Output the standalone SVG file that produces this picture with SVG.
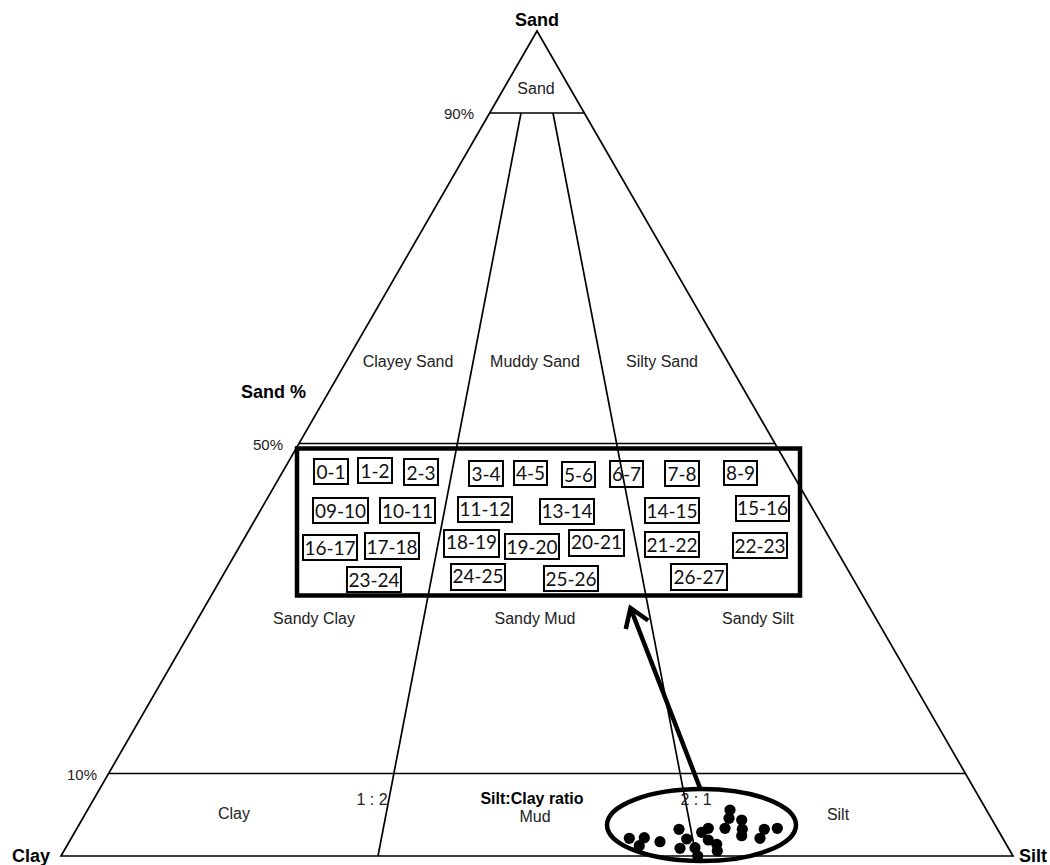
<svg xmlns="http://www.w3.org/2000/svg" width="1050" height="865" viewBox="0 0 1050 865">
  <style>
    .frame { fill: none; stroke: #000; stroke-width: 1.7; }
    .title { font-family: "Liberation Sans", Arial, sans-serif; font-weight: bold; font-size: 18px; fill: #000; }
    .axis { font-family: "Liberation Sans", Arial, sans-serif; font-size: 15px; fill: #222; }
    .zone { font-family: "Liberation Sans", Arial, sans-serif; font-size: 16px; fill: #222; text-anchor: middle; }
    .ratio { font-family: "Liberation Sans", Arial, sans-serif; font-weight: bold; font-size: 16px; fill: #000; text-anchor: middle; }
    .tag rect { fill: none; stroke: #000; stroke-width: 2; }
    .tag text { font-family: Lato, "Open Sans", sans-serif; font-size: 19px; fill: #111; text-anchor: middle; }
    .dot { fill: #000; }
  </style>
  <defs>
    <marker id="chevron" markerUnits="userSpaceOnUse" markerWidth="30" markerHeight="32" viewBox="-24 -16 30 32" refX="0" refY="0" orient="auto" overflow="visible">
      <path d="M-18,-12 L0,0 L-18,12" fill="none" stroke="#000" stroke-width="4.5" stroke-linejoin="miter"/>
    </marker>
  </defs>
  <rect width="1050" height="865" fill="#fff"/>

  <!-- ternary frame and class boundaries -->
  <g id="triangle">
    <polygon class="frame" points="537,31 61,856 1013,856"/>
    <line class="frame" x1="489" y1="113" x2="585" y2="113"/>
    <line class="frame" x1="299" y1="443.5" x2="775" y2="443.5"/>
    <line class="frame" x1="108.6" y1="773.5" x2="965.4" y2="773.5"/>
    <line class="frame" x1="521" y1="113" x2="378" y2="856"/>
    <line class="frame" x1="553" y1="113" x2="696" y2="856"/>
  </g>

  <!-- apex and axis labels -->
  <g id="axis-labels">
    <text class="title" x="537" y="26" text-anchor="middle">Sand</text>
    <text class="title" x="12" y="862">Clay</text>
    <text class="title" x="1019" y="862">Silt</text>
    <text class="title" x="241" y="398">Sand %</text>
    <text class="axis" x="474" y="119" text-anchor="end">90%</text>
    <text class="axis" x="283" y="450" text-anchor="end">50%</text>
    <text class="axis" x="97" y="780" text-anchor="end">10%</text>
  </g>

  <!-- textural class names -->
  <g id="zones">
    <text class="zone" x="536" y="94">Sand</text>
    <text class="zone" x="408" y="367">Clayey Sand</text>
    <text class="zone" x="535" y="367">Muddy Sand</text>
    <text class="zone" x="662" y="367">Silty Sand</text>
    <text class="zone" x="314" y="624">Sandy Clay</text>
    <text class="zone" x="535" y="624">Sandy Mud</text>
    <text class="zone" x="758" y="624">Sandy Silt</text>
    <text class="zone" x="234" y="819">Clay</text>
    <text class="zone" x="535" y="822">Mud</text>
    <text class="zone" x="838" y="820">Silt</text>
    <text class="zone" x="372" y="805">1 : 2</text>
    <text class="zone" x="696" y="805">2 : 1</text>
    <text class="ratio" x="532" y="804">Silt:Clay ratio</text>
  </g>

  <!-- enlarged sample window -->
  <g id="window">
    <rect x="297" y="448.5" width="503" height="147" fill="none" stroke="#000" stroke-width="4.5"/>
  </g>

  <!-- depth interval tags -->
  <g id="tag-0-1" class="tag"><rect x="314" y="459" width="34" height="25"/><text x="331" y="479">0-1</text></g>
  <g id="tag-1-2" class="tag"><rect x="358" y="458" width="34" height="25"/><text x="375" y="478">1-2</text></g>
  <g id="tag-2-3" class="tag"><rect x="404" y="459" width="34" height="26"/><text x="421" y="480">2-3</text></g>
  <g id="tag-3-4" class="tag"><rect x="469" y="461" width="34" height="25"/><text x="486" y="481">3-4</text></g>
  <g id="tag-4-5" class="tag"><rect x="514" y="461" width="33" height="24"/><text x="530.5" y="480">4-5</text></g>
  <g id="tag-5-6" class="tag"><rect x="562" y="462" width="33" height="25"/><text x="578.5" y="482">5-6</text></g>
  <g id="tag-6-7" class="tag"><rect x="610" y="461" width="33" height="26"/><text x="626.5" y="481">6-7</text></g>
  <g id="tag-7-8" class="tag"><rect x="665" y="461" width="34" height="25"/><text x="682" y="481">7-8</text></g>
  <g id="tag-8-9" class="tag"><rect x="724" y="461" width="33" height="24"/><text x="740.5" y="480">8-9</text></g>

  <g id="tag-09-10" class="tag"><rect x="313" y="498" width="55" height="25"/><text x="340.5" y="518">09-10</text></g>
  <g id="tag-10-11" class="tag"><rect x="380" y="498" width="55" height="25"/><text x="407.5" y="518">10-11</text></g>
  <g id="tag-11-12" class="tag"><rect x="458" y="497" width="54" height="25"/><text x="485" y="516">11-12</text></g>
  <g id="tag-13-14" class="tag"><rect x="540" y="499" width="54" height="25"/><text x="567" y="518">13-14</text></g>
  <g id="tag-14-15" class="tag"><rect x="645" y="498" width="54" height="25"/><text x="672" y="518">14-15</text></g>
  <g id="tag-15-16" class="tag"><rect x="736" y="496" width="53" height="25"/><text x="762.5" y="515">15-16</text></g>

  <g id="tag-16-17" class="tag"><rect x="303" y="535" width="54" height="25"/><text x="330" y="555">16-17</text></g>
  <g id="tag-17-18" class="tag"><rect x="365" y="533" width="54" height="26"/><text x="392" y="554">17-18</text></g>
  <g id="tag-18-19" class="tag"><rect x="444" y="530" width="55" height="27"/><text x="471.5" y="549">18-19</text></g>
  <g id="tag-19-20" class="tag"><rect x="505" y="534" width="54" height="25"/><text x="532" y="554">19-20</text></g>
  <g id="tag-20-21" class="tag"><rect x="569" y="530" width="55" height="26"/><text x="596.5" y="549">20-21</text></g>
  <g id="tag-21-22" class="tag"><rect x="645" y="532" width="54" height="25"/><text x="672" y="552">21-22</text></g>
  <g id="tag-22-23" class="tag"><rect x="733" y="533" width="54" height="25"/><text x="760" y="553">22-23</text></g>

  <g id="tag-23-24" class="tag"><rect x="347" y="567" width="54" height="25"/><text x="374" y="587">23-24</text></g>
  <g id="tag-24-25" class="tag"><rect x="451" y="564" width="54" height="26"/><text x="478" y="583">24-25</text></g>
  <g id="tag-25-26" class="tag"><rect x="544" y="566" width="54" height="25"/><text x="571" y="586">25-26</text></g>
  <g id="tag-26-27" class="tag"><rect x="671" y="564" width="56" height="26"/><text x="699" y="584">26-27</text></g>

  <!-- sample cluster -->
  <g id="samples">
    <ellipse cx="701.5" cy="825" rx="94.5" ry="36" fill="none" stroke="#000" stroke-width="4.5"/>
    <circle class="dot" cx="629.3" cy="838.3" r="5.6"/>
    <circle class="dot" cx="644.3" cy="837.7" r="5.6"/>
    <circle class="dot" cx="639.3" cy="845.7" r="5.6"/>
    <circle class="dot" cx="660" cy="841.7" r="5.6"/>
    <circle class="dot" cx="679" cy="829.3" r="5.6"/>
    <circle class="dot" cx="686.7" cy="839" r="5.6"/>
    <circle class="dot" cx="680" cy="848.3" r="5.6"/>
    <circle class="dot" cx="695" cy="847.7" r="5.6"/>
    <circle class="dot" cx="697.7" cy="856" r="5.6"/>
    <circle class="dot" cx="701.7" cy="832.3" r="5.6"/>
    <circle class="dot" cx="708.3" cy="828.3" r="5.6"/>
    <circle class="dot" cx="708.3" cy="840" r="5.6"/>
    <circle class="dot" cx="716.7" cy="844.3" r="5.6"/>
    <circle class="dot" cx="717.3" cy="851" r="5.6"/>
    <circle class="dot" cx="730" cy="810" r="5.6"/>
    <circle class="dot" cx="729" cy="818.3" r="5.6"/>
    <circle class="dot" cx="725" cy="828.3" r="5.6"/>
    <circle class="dot" cx="741.7" cy="820" r="5.6"/>
    <circle class="dot" cx="742.3" cy="829.3" r="5.6"/>
    <circle class="dot" cx="741.7" cy="835.7" r="5.6"/>
    <circle class="dot" cx="764.3" cy="829.3" r="5.6"/>
    <circle class="dot" cx="760" cy="838.3" r="5.6"/>
    <circle class="dot" cx="777.3" cy="828.3" r="5.6"/>
  </g>

  <!-- pointer from cluster to window -->
  <g id="connectors">
    <line x1="700" y1="788" x2="630.5" y2="608" stroke="#000" stroke-width="4.5" marker-end="url(#chevron)"/>
  </g>
</svg>
